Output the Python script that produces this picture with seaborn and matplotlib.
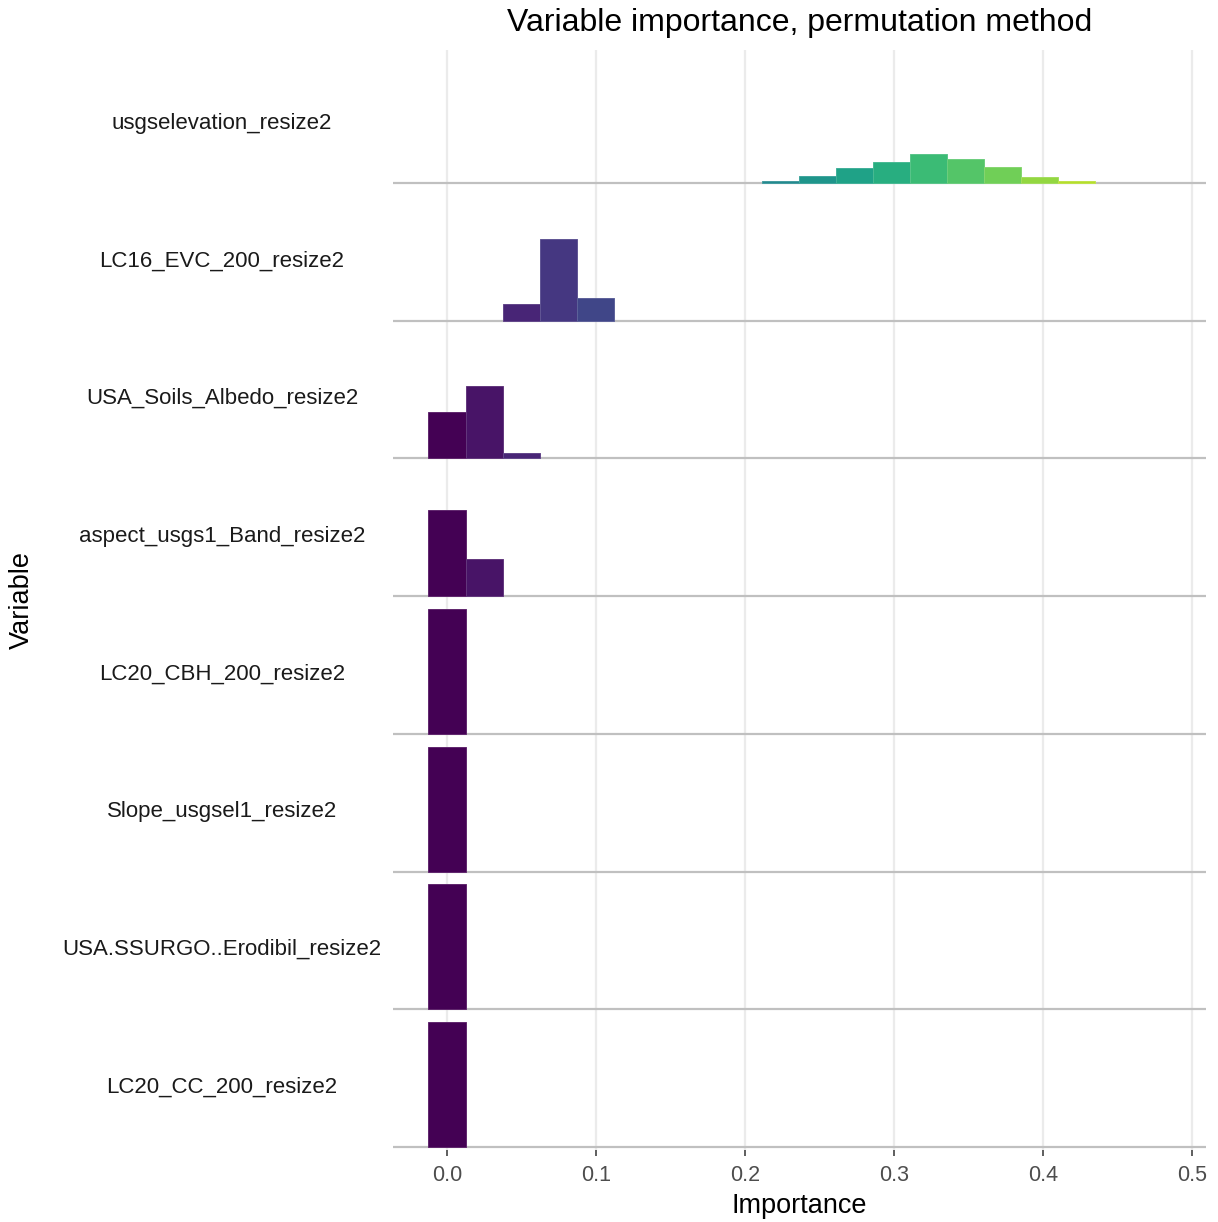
import numpy as np
import pandas as pd
import matplotlib
matplotlib.use("Agg")
import matplotlib.pyplot as plt
import matplotlib.colors as mcolors
import seaborn as sns

# variables, top row first
variables = ["usgselevation_resize2", "LC16_EVC_200_resize2", "USA_Soils_Albedo_resize2",
             "aspect_usgs1_Band_resize2", "LC20_CBH_200_resize2", "Slope_usgsel1_resize2",
             "USA.SSURGO..Erodibil_resize2", "LC20_CC_200_resize2"]

# histogram bin centres (bin width ~0.0249)
bin_centers = [0.0, 0.0249, 0.0497, 0.0746, 0.0994, 0.1243, 0.1491, 0.174, 0.1988,
               0.2237, 0.2485, 0.2734, 0.2982, 0.3231, 0.3479, 0.3728, 0.3976, 0.4225]
bin_width = 0.02485

# counts per bin (out of 100 permutations)
cnt_elev   = [0, 0, 0, 0, 0, 0, 0, 0, 0, 2, 6, 12, 17, 23, 19, 13, 5, 2]
cnt_evc    = [0, 0, 13, 65, 18, 0, 0, 0, 0, 0, 0, 0, 0, 0, 0, 0, 0, 0]
cnt_albedo = [37, 58, 4, 0, 0, 0, 0, 0, 0, 0, 0, 0, 0, 0, 0, 0, 0, 0]
cnt_aspect = [69, 30, 0, 0, 0, 0, 0, 0, 0, 0, 0, 0, 0, 0, 0, 0, 0, 0]
cnt_cbh    = [100, 0, 0, 0, 0, 0, 0, 0, 0, 0, 0, 0, 0, 0, 0, 0, 0, 0]
cnt_slope  = [100, 0, 0, 0, 0, 0, 0, 0, 0, 0, 0, 0, 0, 0, 0, 0, 0, 0]
cnt_erod   = [100, 0, 0, 0, 0, 0, 0, 0, 0, 0, 0, 0, 0, 0, 0, 0, 0, 0]
cnt_cc     = [100, 0, 0, 0, 0, 0, 0, 0, 0, 0, 0, 0, 0, 0, 0, 0, 0, 0]

x_ticks = [0.0, 0.1, 0.2, 0.3, 0.4, 0.5]
x_ticklabels = ["0.0", "0.1", "0.2", "0.3", "0.4", "0.5"]

all_counts = [cnt_elev, cnt_evc, cnt_albedo, cnt_aspect, cnt_cbh, cnt_slope, cnt_erod, cnt_cc]

rows = []
for var, cnts in zip(variables, all_counts):
    for c, n in zip(bin_centers, cnts):
        rows.append({"variable": var, "importance": c, "count": n})
df = pd.DataFrame(rows)

sns.set_theme(style="white")
plt.rcParams["font.family"] = ["Liberation Sans", "DejaVu Sans"]

fig = plt.figure(figsize=(12.18, 12.22), dpi=100)
ax = fig.add_axes([393 / 1218, 1 - 1150 / 1222, 813 / 1218, 1100 / 1222])

cmap = sns.color_palette("viridis", as_cmap=True)
norm = mcolors.Normalize(vmin=0.0, vmax=0.475)
scale = 0.00908  # row height per count

n_var = len(variables)
for i, var in enumerate(variables):
    base = n_var - 1 - i
    sub = df[(df["variable"] == var) & (df["count"] > 0)]
    cols = [cmap(norm(v)) for v in sub["importance"]]
    edge = [tuple(np.array(mcolors.to_rgb(c)) * 0.85 + 0.15) for c in cols]
    ax.bar(sub["importance"], sub["count"] * scale, bottom=base, width=bin_width,
           color=cols, edgecolor=edge, linewidth=0.7, zorder=3)
    ax.text(-0.2103, base + 0.435, var, transform=ax.get_yaxis_transform(),
            ha="center", va="center", fontsize=16, color="#1a1a1a")

# grid
for xt in x_ticks:
    ax.axvline(xt, color="#ebebeb", lw=1.6, zorder=0)
for b in range(n_var):
    ax.axhline(b, color="#c0c0c0", lw=1.6, zorder=1)

ax.set_xlim(-0.03624, 0.5094)
ax.set_ylim(-0.022, 7.966)
ax.set_xticks(x_ticks)
ax.set_xticklabels(x_ticklabels)
ax.set_yticks([])
ax.tick_params(axis="x", length=4.5, width=1.1, color="#333333", labelsize=15.5,
               labelcolor="#4d4d4d", pad=6, bottom=True)
for s in ax.spines.values():
    s.set_visible(False)

ax.set_xlabel("Importance", fontsize=19.5, color="black", labelpad=5)
fig.text(22 / 1218, 1 - 600 / 1222, "Variable", rotation=90, ha="center", va="center",
         fontsize=19.5, color="black")
ax.set_title("Variable importance, permutation method", fontsize=23, color="black", pad=14)

fig.savefig("out.png", dpi=100)
